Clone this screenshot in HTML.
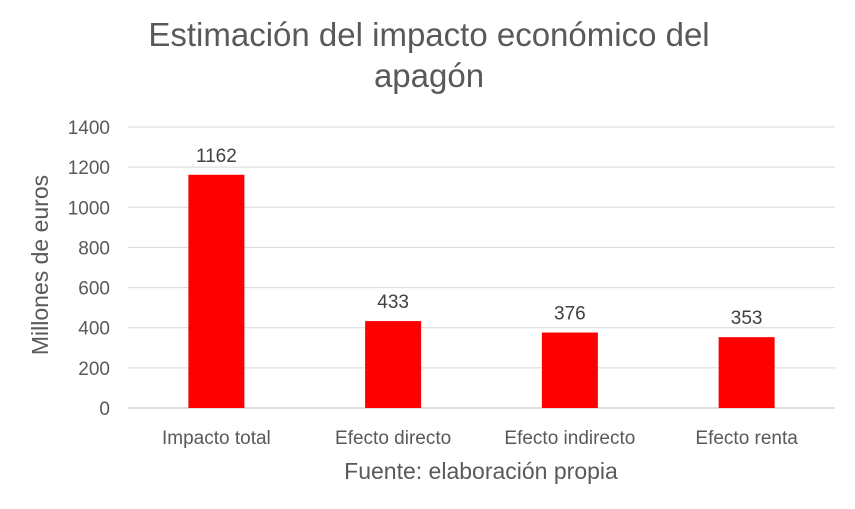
<!DOCTYPE html>
<html><head><meta charset="utf-8"><style>
body{margin:0;background:#fff;}
svg{display:block;font-family:"Liberation Sans",sans-serif;}
</style></head><body>
<svg id="chart" width="855" height="509">
<text x="429" y="46" text-anchor="middle" font-size="33" fill="#595959">Estimación del impacto económico del</text>
<text x="429" y="87" text-anchor="middle" font-size="33" fill="#595959">apagón</text>
<text x="48" y="265" text-anchor="middle" font-size="23" fill="#595959" transform="rotate(-90 48 265)">Millones de euros</text>
<text x="481" y="479" text-anchor="middle" font-size="23" fill="#595959">Fuente: elaboración propia</text>
<g id="grid"></g><g id="bars"></g>
</svg>
<script>
const categories=["Impacto total","Efecto directo","Efecto indirecto","Efecto renta"];
const values=[1162,433,376,353];
const ticks=[0,200,400,600,800,1000,1200,1400];
const NS="http://www.w3.org/2000/svg";
const x0=128,x1=835,yBase=408,yTop=127,maxV=1400;
const y=v=>yBase-(v/maxV)*(yBase-yTop);
const band=(x1-x0)/categories.length;
const xc=i=>x0+band*(i+0.5);
const g=document.getElementById('grid'),b=document.getElementById('bars');
function mk(t,a){const e=document.createElementNS(NS,t);for(const k in a)e.setAttribute(k,a[k]);return e;}
ticks.forEach(t=>{
 const l=mk('line',{x1:x0,x2:x1,y1:y(t),y2:y(t),stroke:t===0?'#bfbfbf':'#d9d9d9','stroke-width':1});
 
 
 g.appendChild(l);
 const tx=mk('text',{x:110,y:y(t)+7,'text-anchor':'end','font-size':19,fill:'#595959'});
 tx.textContent=t;
 
 
 g.appendChild(tx);
});
categories.forEach((c,i)=>{
 const r=mk('rect',{x:xc(i)-28,y:y(values[i]),width:56,height:yBase-y(values[i]),fill:'#ff0000'});
 
 
 b.appendChild(r);
 const v=mk('text',{x:xc(i),y:y(values[i])-13,'text-anchor':'middle','font-size':19,fill:'#404040'});
 v.textContent=values[i];
 
 
 b.appendChild(v);
 const cl=mk('text',{x:xc(i),y:444,'text-anchor':'middle','font-size':19,fill:'#595959'});
 cl.textContent=c;
 
 
 b.appendChild(cl);
});
</script>
</body></html>
